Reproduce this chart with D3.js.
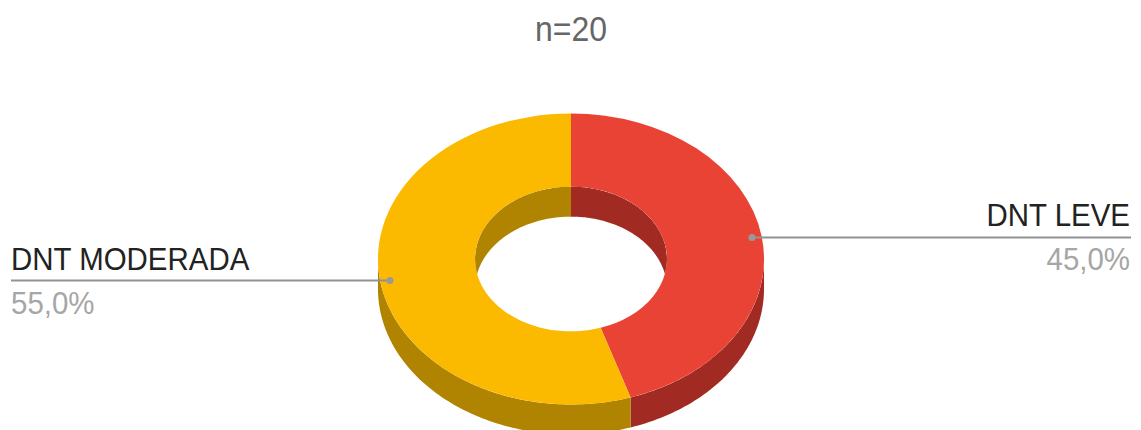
<!DOCTYPE html>
<html><head><meta charset="utf-8">
<script src="https://cdn.jsdelivr.net/npm/d3@7/dist/d3.min.js"></script>
<style>html,body{margin:0;padding:0;background:#fff}svg{display:block}text{font-family:"Liberation Sans",Arial,sans-serif}</style>
</head><body><div id="c"></div>
<script>
const categories = ["DNT LEVE", "DNT MODERADA"];
const values = [45, 55];
const percentLabels = ["45,0%", "55,0%"];
const topColors = ["#e94335", "#fbb900"];
const sideColors = ["#a12a22", "#b08400"];
const title = "n=20";

const W = 1141, H = 430, cx = 571, cy = 259, rx = 193, ry = 145.5, irx = 96, iry = 72.5, depth = 30;
const svg = d3.select("#c").append("svg").attr("width", W).attr("height", H);
const pie = d3.pie().sort(null)(values);
const TAU = Math.PI * 2;
const px = (a, r) => cx + r * Math.sin(a);
const py = (a, r, d) => cy + (d || 0) - r * (ry / rx) * Math.cos(a);
const line = d3.line();
function wall(a0, a1, r) {
  if (a1 <= a0) return null;
  const aa = d3.range(0, 91).map(i => a0 + (a1 - a0) * i / 90);
  const top = aa.map(a => [px(a, r), py(a, r, 0)]);
  const bot = aa.slice().reverse().map(a => [px(a, r), py(a, r, depth)]);
  return line(top.concat(bot)) + "Z";
}
pie.forEach((p, i) => {
  const d = wall(Math.max(p.startAngle, Math.PI / 2), Math.min(p.endAngle, 3 * Math.PI / 2), rx);
  if (d) svg.append("path").attr("d", d).attr("fill", sideColors[i]);
});
const arc = d3.arc().innerRadius(irx).outerRadius(rx);
const face = svg.append("g").attr("transform", `translate(${cx},${cy}) scale(1,${ry / rx})`);
pie.forEach((p, i) => face.append("path").attr("d", arc(p)).attr("fill", topColors[i]));
svg.append("clipPath").attr("id", "hole").append("ellipse")
  .attr("cx", cx).attr("cy", cy).attr("rx", irx).attr("ry", iry);
const inner = svg.append("g").attr("clip-path", "url(#hole)");
pie.forEach((p, i) => {
  [[0, Math.PI / 2], [3 * Math.PI / 2, TAU]].forEach(([s, e]) => {
    const d = wall(Math.max(p.startAngle, s), Math.min(p.endAngle, e), irx);
    if (d) inner.append("path").attr("d", d).attr("fill", sideColors[i]);
  });
});
// Text in the reference is narrower than the font's natural proportions.
function squeezed(x, y, anchor, size, fill, str, sx) {
  svg.append("text").attr("text-anchor", anchor).attr("font-size", size).attr("fill", fill)
    .attr("transform", `translate(${x},${y}) scale(${sx},1)`).text(str);
}
squeezed(571, 41, "middle", 35.5, "#666", title, 0.9);
const callouts = [
  {i: 0, x0: 752, x1: 1131, y: 237.5, anchor: "end", tx: 1130, up: 12, down: 32.5},
  {i: 1, x0: 390, x1: 11, y: 280.5, anchor: "start", tx: 11, up: 11, down: 33}
];
callouts.forEach(c => {
  svg.append("line").attr("x1", c.x0).attr("x2", c.x1).attr("y1", c.y).attr("y2", c.y)
    .attr("stroke", "#929292").attr("stroke-width", 2);
  svg.append("circle").attr("cx", c.x0).attr("cy", c.y).attr("r", 3.5).attr("fill", "#999");
  squeezed(c.tx, c.y - c.up, c.anchor, 31.5, "#222", categories[c.i], 0.935);
  squeezed(c.tx, c.y + c.down, c.anchor, 31.5, "#a6a6a6", percentLabels[c.i], 0.935);
});
</script></body></html>
